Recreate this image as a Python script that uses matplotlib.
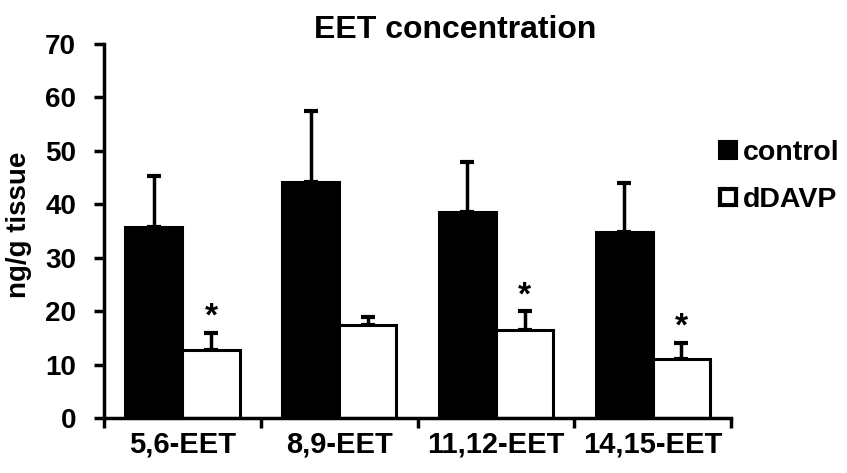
import matplotlib
matplotlib.use("Agg")
import matplotlib.pyplot as plt
import numpy as np
from matplotlib.lines import Line2D

plt.rcParams['font.family'] = ['Liberation Sans', 'DejaVu Sans']
plt.rcParams['font.weight'] = 'bold'

categories = ["5,6-EET", "8,9-EET", "11,12-EET", "14,15-EET"]
control = [35.8, 44.1, 38.5, 34.8]
control_err = [9.5, 13.4, 9.5, 9.1]
ddavp = [12.8, 17.4, 16.5, 11.1]
ddavp_err = [3.2, 1.5, 3.5, 3.0]
significant = [True, False, True, True]

FS = 20

fig = plt.figure(figsize=(8.47, 4.73), dpi=100)
ax = fig.add_axes([0.1228, 0.1163, 0.7405, 0.7907])

x = np.arange(len(categories))
w = 0.365
lw = 2.2
ax.bar(x - w / 2, control, w, color='black', edgecolor='black', linewidth=lw, zorder=2)
ax.bar(x + w / 2, ddavp, w, color='white', edgecolor='black', linewidth=lw, zorder=2)
ax.errorbar(x - w / 2, control, yerr=[np.zeros(4), control_err], fmt='none',
            ecolor='black', elinewidth=2.5, capsize=5, capthick=3, zorder=1)
ax.errorbar(x + w / 2, ddavp, yerr=[np.zeros(4), ddavp_err], fmt='none',
            ecolor='black', elinewidth=2.5, capsize=5, capthick=3, zorder=1)

for i in range(len(categories)):
    if significant[i]:
        ax.annotate('*', (x[i] + w / 2, ddavp[i] + ddavp_err[i]), xytext=(0, 0),
                    textcoords='offset points', ha='center', va='bottom',
                    fontsize=24, fontweight='bold')

ax.set_xlim(-0.5, len(categories) - 0.5)
ax.set_ylim(0, 70)
ax.set_yticks(np.arange(0, 71, 10))
ax.set_xticks(np.arange(-0.5, len(categories), 1.0))
ax.set_xticklabels([])
ax.set_xticks(x, minor=True)
ax.set_xticklabels(categories, minor=True)
ax.tick_params(axis='x', which='minor', length=0, pad=9, labelsize=21)
ax.tick_params(axis='x', which='major', direction='out', length=7, width=2.5)
ax.tick_params(axis='y', direction='out', length=7, width=2.5, labelsize=FS, pad=13)
for lab in ax.get_xticklabels(minor=True) + ax.get_yticklabels():
    lab.set_fontweight('bold')

for s in ['top', 'right']:
    ax.spines[s].set_visible(False)
for s in ['left', 'bottom']:
    ax.spines[s].set_linewidth(2.5)

ax.set_ylabel('ng/g tissue', fontsize=FS, fontweight='bold')
ax.yaxis.set_label_coords(-0.115, 0.516)
fig.text(455 / 847, 1 - 38 / 473, 'EET concentration', fontsize=23, fontweight='bold',
         ha='center', va='baseline')

handles = [Line2D([], [], marker='s', linestyle='none', markersize=13,
                  markerfacecolor='black', markeredgecolor='black', markeredgewidth=1.5),
           Line2D([], [], marker='s', linestyle='none', markersize=11.5,
                  markerfacecolor='white', markeredgecolor='black', markeredgewidth=3)]
fig.legend(handles, ['control', 'dDAVP'], loc='upper left', bbox_to_anchor=(0.848, 0.705),
           frameon=False, handlelength=0.7, handletextpad=0.15, labelspacing=0.75,
           borderpad=0, borderaxespad=0, prop={'size': 20.5, 'weight': 'bold'})

fig.savefig('out.png', dpi=100)
